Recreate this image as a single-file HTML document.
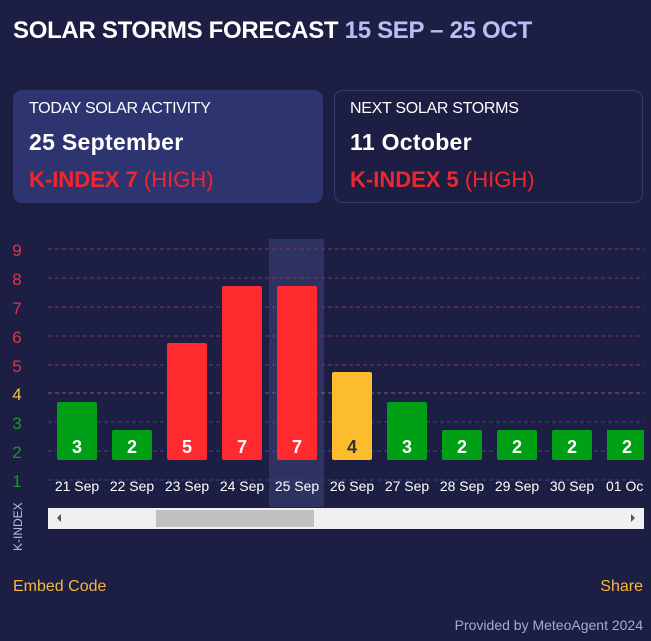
<!DOCTYPE html>
<html><head><meta charset="utf-8"><style>
body{margin:0;width:651px;height:641px;background:#1c1f43;font-family:"Liberation Sans",Arial,sans-serif;position:relative;overflow:hidden;color:#fff}
.a{position:absolute;white-space:nowrap}
.card{position:absolute;top:90px;height:113px;width:310px;border-radius:9px;box-sizing:border-box}
</style></head><body>
<div class="a" style="left:13px;top:17px;font-size:24px;font-weight:bold;letter-spacing:-0.3px">SOLAR STORMS FORECAST <span style="color:#b8bdf5">15 SEP – 25 OCT</span></div>
<div class="card" style="left:13px;background:#2e3470;"></div>
<div class="card" style="left:334px;width:309px;border:1px solid #343a6e;"></div>
<div class="a" style="left:29px;top:100px;font-size:16px;letter-spacing:-0.3px">TODAY SOLAR ACTIVITY</div>
<div class="a" style="left:29px;top:129px;font-size:23px;font-weight:bold;letter-spacing:0.3px">25 September</div>
<div class="a" style="left:29px;top:167px;font-size:22px;color:#f0262e"><b>K-INDEX 7</b> (HIGH)</div>
<div class="a" style="left:350px;top:100px;font-size:16px;letter-spacing:-0.3px">NEXT SOLAR STORMS</div>
<div class="a" style="left:350px;top:129px;font-size:23px;font-weight:bold;letter-spacing:0.3px">11 October</div>
<div class="a" style="left:350px;top:167px;font-size:22px;color:#f0262e"><b>K-INDEX 5</b> (HIGH)</div>
<svg class="a" style="left:0;top:0" width="651" height="641">
<rect x="269" y="239" width="55" height="268" fill="#2e3260"/>
<g stroke-dasharray="4,3" stroke-width="1">
<line x1="48" x2="644" y1="249" y2="249" stroke="#7a3858"/>
<line x1="48" x2="644" y1="278" y2="278" stroke="#7a3858"/>
<line x1="48" x2="644" y1="307" y2="307" stroke="#7a3858"/>
<line x1="48" x2="644" y1="336" y2="336" stroke="#7a3858"/>
<line x1="48" x2="644" y1="365" y2="365" stroke="#7a3858"/>
<line x1="48" x2="644" y1="393" y2="393" stroke="#7a6a55"/>
<line x1="48" x2="644" y1="422" y2="422" stroke="#3a4a7a"/>
<line x1="48" x2="644" y1="451" y2="451" stroke="#3a4a7a"/>
<line x1="48" x2="644" y1="480" y2="480" stroke="#3a4a7a"/>
</g>
<g font-size="17" text-anchor="middle">
<text x="17" y="256" fill="#e0354b">9</text><text x="17" y="285" fill="#e0354b">8</text>
<text x="17" y="314" fill="#e0354b">7</text><text x="17" y="343" fill="#e0354b">6</text>
<text x="17" y="372" fill="#e0354b">5</text><text x="17" y="400" fill="#f5c242">4</text>
<text x="17" y="429" fill="#0f9a2a">3</text><text x="17" y="458" fill="#0f9a2a">2</text>
<text x="17" y="487" fill="#0f9a2a">1</text>
</g>
<text transform="translate(22,551) rotate(-90)" font-size="12" fill="#b8bce0">K-INDEX</text>
<g>
<rect x="57" y="402" width="40" height="58" rx="2" fill="#00a016"/>
<rect x="112" y="430" width="40" height="30" rx="2" fill="#00a016"/>
<rect x="167" y="343" width="40" height="117" rx="2" fill="#ff2a2d"/>
<rect x="222" y="286" width="40" height="174" rx="2" fill="#ff2a2d"/>
<rect x="277" y="286" width="40" height="174" rx="2" fill="#ff2a2d"/>
<rect x="332" y="372" width="40" height="88" rx="2" fill="#fbbd2b"/>
<rect x="387" y="402" width="40" height="58" rx="2" fill="#00a016"/>
<rect x="442" y="430" width="40" height="30" rx="2" fill="#00a016"/>
<rect x="497" y="430" width="40" height="30" rx="2" fill="#00a016"/>
<rect x="552" y="430" width="40" height="30" rx="2" fill="#00a016"/>
<rect x="607" y="430" width="37" height="30" fill="#00a016"/>
</g>
<g font-size="18" font-weight="bold" text-anchor="middle" fill="#fff">
<text x="77" y="453">3</text><text x="132" y="453">2</text><text x="187" y="453">5</text>
<text x="242" y="453">7</text><text x="297" y="453">7</text><text x="352" y="453" fill="#333">4</text>
<text x="407" y="453">3</text><text x="462" y="453">2</text><text x="517" y="453">2</text>
<text x="572" y="453">2</text><text x="627" y="453">2</text>
</g>
<g font-size="14" text-anchor="middle" fill="#fff">
<text x="77" y="491">21 Sep</text><text x="132" y="491">22 Sep</text><text x="187" y="491">23 Sep</text>
<text x="242" y="491">24 Sep</text><text x="297" y="491">25 Sep</text><text x="352" y="491">26 Sep</text>
<text x="407" y="491">27 Sep</text><text x="462" y="491">28 Sep</text><text x="517" y="491">29 Sep</text>
<text x="572" y="491">30 Sep</text><text x="606" y="491" text-anchor="start">01 Oc</text>
</g>
<rect x="48" y="508" width="596" height="21" fill="#f0f0f0"/>
<rect x="156" y="510" width="158" height="17" fill="#c0c0c0"/>
<polygon points="57,518 61,514 61,522" fill="#555"/>
<polygon points="635,518 631,514 631,522" fill="#555"/>
</svg>
<div class="a" style="left:13px;top:578px;font-size:16px;color:#f5b83a">Embed Code</div>
<div class="a" style="right:8px;top:578px;font-size:16px;color:#f5b83a">Share</div>
<div class="a" style="right:8px;top:617px;font-size:14px;color:#a5a9d5">Provided by MeteoAgent 2024</div>
</body></html>
